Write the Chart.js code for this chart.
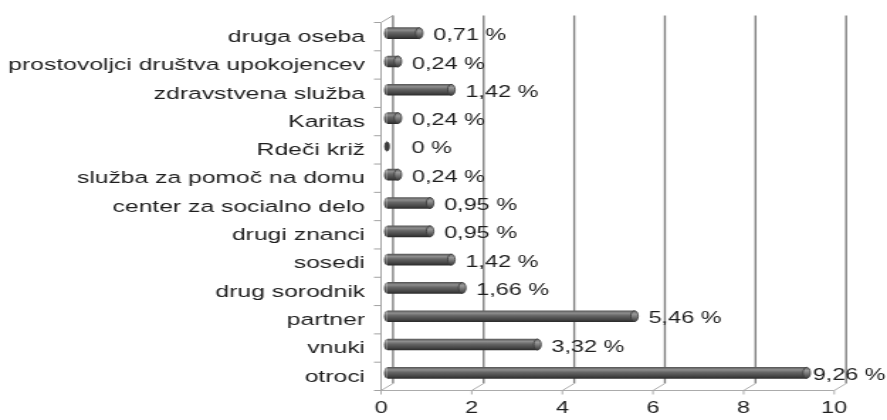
<!DOCTYPE html>
<html lang="sl">
<head>
<meta charset="utf-8">
<title>Pomoč</title>
<script src="https://cdn.jsdelivr.net/npm/chart.js@4.4.1/dist/chart.umd.min.js"></script>
<style>
  html, body { margin: 0; padding: 0; background: #fff; }
</style>
</head>
<body>
<!-- the chart is drawn narrower and stretched sideways, like the original picture -->
<canvas id="chart" width="625" height="420" style="display:block;width:887px;height:420px"></canvas>
<script>
// Podatki
const categories = [
  'druga oseba',
  'prostovoljci društva upokojencev',
  'zdravstvena služba',
  'Karitas',
  'Rdeči križ',
  'služba za pomoč na domu',
  'center za socialno delo',
  'drugi znanci',
  'sosedi',
  'drug sorodnik',
  'partner',
  'vnuki',
  'otroci'
];
const values = [0.71, 0.24, 1.42, 0.24, 0, 0.24, 0.95, 0.95, 1.42, 1.66, 5.46, 3.32, 9.26];
const xTicks = [0, 2, 4, 6, 8, 10];

const FONT = '"Liberation Sans", Arial, sans-serif';
const FONT_SIZE = 16.5;
const TEXT = '#1e1e1e';
const BAR_H = 11;
const DX = 4.2;   // half of the 3D depth, sideways
const DY = 3.5;   // half of the 3D depth, up/down

function fmt(v) {
  return v === 0 ? '0 %' : v.toFixed(2).replace('.', ',') + ' %';
}

// Dégradé du cylindre
function cylinderFill(c) {
  const chart = c.chart;
  if (!chart.scales || !chart.scales.y) return '#555';
  const y = chart.scales.y.getPixelForValue(c.dataIndex);
  if (!Number.isFinite(y)) return '#555';
  const g = chart.ctx.createLinearGradient(0, y - BAR_H / 2, 0, y + BAR_H / 2);
  g.addColorStop(0, '#5a5a5a');
  g.addColorStop(0.22, '#8e8e8e');
  g.addColorStop(0.45, '#666');
  g.addColorStop(0.8, '#454545');
  g.addColorStop(1, '#2c2c2c');
  return g;
}

function line(ctx, x1, y1, x2, y2) {
  ctx.beginPath();
  ctx.moveTo(x1, y1);
  ctx.lineTo(x2, y2);
  ctx.stroke();
}

// Parois 3D, grille et graduations
const wallsPlugin = {
  id: 'walls',
  beforeDatasetsDraw(chart) {
    const { ctx, chartArea: a, scales: { x, y } } = chart;
    const x0 = x.getPixelForValue(0);
    ctx.save();

    // back wall grid lines
    ctx.strokeStyle = '#828282';
    ctx.lineWidth = 1.4;
    xTicks.forEach(v => {
      const px = x.getPixelForValue(v) + DX;
      line(ctx, px, a.top - DY, px, a.bottom - DY);
    });

    // floor
    ctx.strokeStyle = '#ababab';
    ctx.lineWidth = 1;
    line(ctx, x0 - DX, a.bottom + DY, x.getPixelForValue(xTicks[xTicks.length - 1]) - DX, a.bottom + DY);
    xTicks.forEach(v => {
      const px = x.getPixelForValue(v);
      line(ctx, px - DX, a.bottom + DY, px + DX, a.bottom - DY);
      line(ctx, px - DX, a.bottom + DY, px - DX, a.bottom + DY + 4);
    });

    // left wall, front edge
    ctx.strokeStyle = '#a2a2a2';
    line(ctx, x0 - DX, a.top + DY, x0 - DX, a.bottom + DY);
    line(ctx, x0 - DX, a.top + DY, x0 + DX, a.top - DY);
    for (let i = 0; i <= categories.length; i++) {
      const ty = y.getPixelForValue(i - 0.5) + DY;
      line(ctx, x0 - DX - 5, ty, x0 - DX, ty);
    }

    // x tick labels on the front edge
    ctx.fillStyle = TEXT;
    ctx.font = FONT_SIZE + 'px ' + FONT;
    ctx.textAlign = 'center';
    ctx.textBaseline = 'middle';
    xTicks.forEach(v => {
      ctx.fillText(String(v), x.getPixelForValue(v) - DX, a.bottom + 21);
    });
    ctx.restore();
  },
  afterDatasetsDraw(chart) {
    const { ctx, scales: { x } } = chart;
    const meta = chart.getDatasetMeta(0);
    const x0 = x.getPixelForValue(0);
    ctx.save();
    meta.data.forEach((el, i) => {
      const { x: ex, y: ey, base } = el.getProps(['x', 'y', 'base'], true);
      const hh = BAR_H / 2;
      const g = ctx.createLinearGradient(0, ey - hh, 0, ey + hh);
      g.addColorStop(0, '#6a6a6a');
      g.addColorStop(0.3, '#9a9a9a');
      g.addColorStop(1, '#3a3a3a');

      // left end
      if (values[i] > 0) {
        ctx.fillStyle = cylinderFill({ chart, dataIndex: i });
        ctx.beginPath();
        ctx.ellipse(base, ey, 2.2, hh, 0, Math.PI / 2, Math.PI * 1.5);
        ctx.fill();
      }
      // right cap
      ctx.fillStyle = values[i] > 0 ? g : '#3c3c3c';
      ctx.strokeStyle = '#3a3a3a';
      ctx.lineWidth = 0.8;
      ctx.beginPath();
      ctx.ellipse(ex, ey, values[i] > 0 ? 2.6 : 1.6, hh - (values[i] > 0 ? 0 : 1), 0, 0, Math.PI * 2);
      ctx.fill();
      ctx.stroke();

      // data label
      const txt = fmt(values[i]);
      ctx.font = FONT_SIZE + 'px ' + FONT;
      ctx.fillStyle = TEXT;
      ctx.textAlign = 'left';
      ctx.textBaseline = 'middle';
      const w = ctx.measureText(txt).width;
      let lx = Math.max(ex + 9.9, x0 + 17.4);
      if (lx + w > chart.width - 1) lx = chart.width - 1 - w;
      ctx.fillText(txt, lx, ey + 2.5);
    });
    ctx.restore();
  }
};

const chart = new Chart(document.getElementById('chart'), {
  type: 'bar',
  data: {
    labels: categories,
    datasets: [{
      data: values,
      backgroundColor: cylinderFill,
      borderWidth: 0,
      barThickness: BAR_H
    }]
  },
  options: {
    indexAxis: 'y',
    responsive: false,
    devicePixelRatio: 1,
    animation: false,
    layout: { padding: { top: 19, bottom: 33, left: 0, right: 33 } },
    scales: {
      x: {
        display: false,
        min: 0,
        max: 10
      },
      y: {
        grid: { display: false, drawTicks: false },
        border: { display: false },
        ticks: {
          color: TEXT,
          font: { family: FONT, size: 17.4 },
          padding: 15.5,
          labelOffset: 4,
          autoSkip: false
        },
        afterFit(scale) {
          scale.width = 272.7;
          // pas de marge en plus pour la moitié des libellés
          scale.paddingTop = 0;
          scale.paddingBottom = 0;
        }
      }
    },
    plugins: {
      legend: { display: false },
      tooltip: { enabled: false },
      title: { display: false }
    }
  },
  plugins: [wallsPlugin]
});
</script>
</body>
</html>
